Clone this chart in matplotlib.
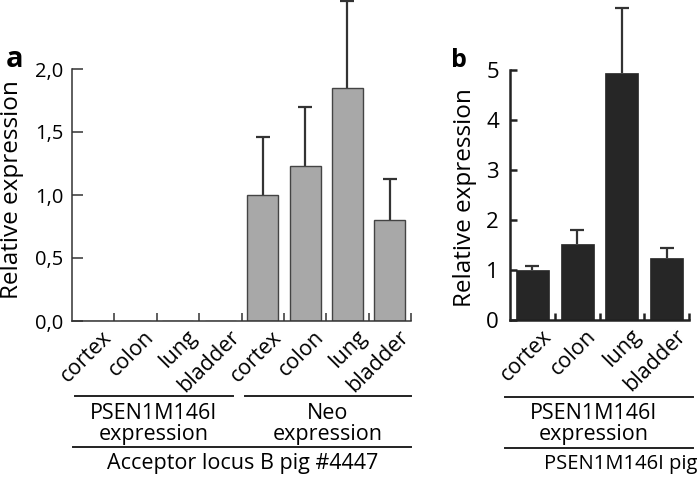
import matplotlib
matplotlib.use("Agg")
import matplotlib.pyplot as plt
from matplotlib.lines import Line2D
import numpy as np

plt.rcParams['font.family'] = ['Open Sans', 'DejaVu Sans']

# ---- data ----
cats_a = ["cortex", "colon", "lung", "bladder", "cortex", "colon", "lung", "bladder"]
vals_a = [0, 0, 0, 0, 1.00, 1.23, 1.85, 0.80]
err_a = [0, 0, 0, 0, 0.46, 0.47, 0.69, 0.33]
yticks_a = [0, 0.5, 1.0, 1.5, 2.0]
yticklabels_a = ["0,0", "0,5", "1,0", "1,5", "2,0"]

cats_b = ["cortex", "colon", "lung", "bladder"]
vals_b = [1.00, 1.52, 4.95, 1.25]
err_b = [0.08, 0.29, 1.30, 0.20]
yticks_b = [0, 1, 2, 3, 4, 5]

W, H = 699, 479
fig = plt.figure(figsize=(W / 100, H / 100), dpi=100)

def fx(px):
    return px / W

def fy(py):
    return 1 - py / H

YL = 17.5   # y-label size
CAT = 15.5  # category labels
GRP = 15.5  # group labels

def up_errorbars(axis, x, v, e):
    _, caps, _ = axis.errorbar(x, v, yerr=[np.zeros(len(x)), e], fmt="none",
                               ecolor="#333333", elinewidth=1.6, capsize=5.2, capthick=1.6,
                               zorder=1)
    caps[0].set_visible(False)
    for c in caps:
        c.set_clip_on(False)

# ---- panel a ----
ax = fig.add_axes([fx(72), fy(321), (411 - 72) / W, 321.3 / H])
xa = np.arange(len(cats_a))
ax.bar(xa, vals_a, width=0.73, color="#a8a8a8", edgecolor="#444444", linewidth=1.0, zorder=2)
up_errorbars(ax, xa[4:], vals_a[4:], err_a[4:])
ax.set_xlim(-0.5, len(cats_a) - 0.5)
ax.set_ylim(0, 2.55)
for s in ["top", "right"]:
    ax.spines[s].set_visible(False)
ax.spines["left"].set_bounds(0, 2.0)
for s in ["left", "bottom"]:
    ax.spines[s].set_linewidth(1.1)
    ax.spines[s].set_color("#333333")
    ax.spines[s].set_zorder(3)
ax.set_yticks(yticks_a)
ax.set_yticklabels(yticklabels_a, fontsize=14.5)
ax.tick_params(axis="y", direction="in", length=8, width=1.1, color="#333333", pad=6)
ax.set_xticks(np.arange(len(cats_a)) + 0.5)
ax.set_xticklabels([])
ax.tick_params(axis="x", direction="in", length=6, width=1.1, color="#333333")
for i, c in enumerate(cats_a):
    ax.annotate(c, xy=(i, 0), xycoords="data", xytext=(6, -4), textcoords="offset points",
                rotation=45, rotation_mode="anchor", ha="right", va="top", fontsize=CAT)

fig.text(fx(12), fy(190), "Relative expression", rotation=90, ha="center", va="center", fontsize=YL)
fig.text(fx(15), fy(67), "a", fontweight="bold", ha="center", va="baseline", fontsize=21)

def hline(x0, x1, y):
    fig.add_artist(Line2D([fx(x0), fx(x1)], [fy(y), fy(y)], transform=fig.transFigure,
                          color="#222222", linewidth=1.4))

hline(75, 233, 396)
hline(245, 411, 396)
hline(73, 411, 447)
fig.text(fx(154), fy(424), "PSEN1M146I\nexpression", ha="center", va="center", fontsize=GRP, linespacing=1.0)
fig.text(fx(328), fy(424), "Neo\nexpression", ha="center", va="center", fontsize=GRP, linespacing=1.0)
fig.text(fx(243), fy(463), "Acceptor locus B pig #4447", ha="center", va="center", fontsize=GRP)

# ---- panel b ----
bx = fig.add_axes([fx(510), fy(320), (689 - 510) / W, 320 / H])
xb = np.arange(len(cats_b))
bx.bar(xb, vals_b, width=0.74, color="#262626", edgecolor="#262626", linewidth=0.5, zorder=2)
up_errorbars(bx, xb, vals_b, err_b)
bx.set_xlim(-0.5, len(cats_b) - 0.5)
bx.set_ylim(0, 6.4)
for s in ["top", "right"]:
    bx.spines[s].set_visible(False)
bx.spines["left"].set_bounds(0, 5)
for s in ["left", "bottom"]:
    bx.spines[s].set_linewidth(1.8)
    bx.spines[s].set_color("#222222")
    bx.spines[s].set_zorder(3)
bx.set_yticks(yticks_b)
bx.set_yticklabels([str(v) for v in yticks_b], fontsize=16)
bx.tick_params(axis="y", direction="in", length=5, width=1.8, color="#222222", pad=8)
bx.set_xticks(np.arange(len(cats_b)) + 0.5)
bx.set_xticklabels([])
bx.tick_params(axis="x", direction="in", length=5, width=1.8, color="#222222")
for i, c in enumerate(cats_b):
    bx.annotate(c, xy=(i, 0), xycoords="data", xytext=(6, -4), textcoords="offset points",
                rotation=45, rotation_mode="anchor", ha="right", va="top", fontsize=CAT)

fig.text(fx(465), fy(198), "Relative expression", rotation=90, ha="center", va="center", fontsize=YL)
fig.text(fx(459), fy(67), "b", fontweight="bold", ha="center", va="baseline", fontsize=18)

hline(505, 693, 397)
hline(505, 693, 448)
fig.text(fx(594), fy(424), "PSEN1M146I\nexpression", ha="center", va="center", fontsize=GRP, linespacing=1.0)
fig.text(fx(697), fy(464), "PSEN1M146I pig", ha="right", va="center", fontsize=14.5)

fig.savefig("out.png", dpi=100)
